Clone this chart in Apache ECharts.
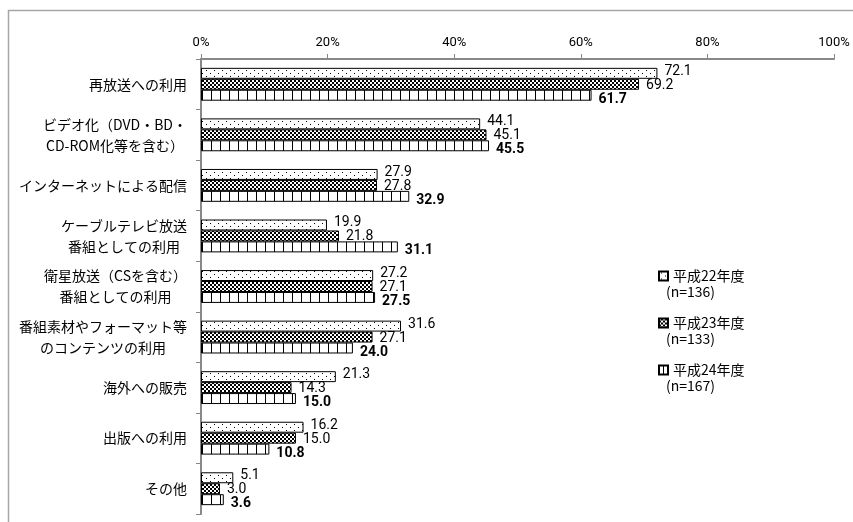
<!DOCTYPE html>
<html><head><meta charset="utf-8">
<script src="https://cdn.jsdelivr.net/npm/echarts@6/dist/echarts.min.js"></script>
<style>html,body{margin:0;padding:0;background:#fff}#c{width:853px;height:522px}</style>
</head><body><div id="c"></div>
<script>
const categories = [
  '再放送への利用',
  'ビデオ化（DVD・BD・\nCD-ROM化等を含む）',
  'インターネットによる配信',
  'ケーブルテレビ放送\n番組としての利用',
  '衛星放送（CSを含む）\n番組としての利用',
  '番組素材やフォーマット等\nのコンテンツの利用',
  '海外への販売',
  '出版への利用',
  'その他'
];
const seriesNames = ['平成22年度', '平成23年度', '平成24年度'];
const sampleSizes = ['(n=136)', '(n=133)', '(n=167)'];
const h22 = [72.1, 44.1, 27.9, 19.9, 27.2, 31.6, 21.3, 16.2, 5.1];
const h23 = [69.2, 45.1, 27.8, 21.8, 27.1, 27.1, 14.3, 15.0, 3.0];
const h24 = [61.7, 45.5, 32.9, 31.1, 27.5, 24.0, 15.0, 10.8, 3.6];
const xTicks = [0, 20, 40, 60, 80, 100];

const JP = '"Noto Sans CJK JP", sans-serif';
const NUM = 'Roboto, "Noto Sans CJK JP", sans-serif';

function makePattern(w, h, draw) {
  const c = document.createElement('canvas');
  c.width = w; c.height = h;
  const g = c.getContext('2d');
  draw(g);
  return { image: c, repeat: 'repeat' };
}
const dotPat = makePattern(8, 6, g => {
  g.fillStyle = '#fff'; g.fillRect(0, 0, 8, 6);
  g.fillStyle = '#000'; g.fillRect(2, 1, 1, 1); g.fillRect(6, 4, 1, 1);
});
const checkPat = makePattern(4, 4, g => {
  g.fillStyle = '#000'; g.fillRect(0, 0, 4, 4);
  g.fillStyle = '#fff'; g.fillRect(0, 0, 2, 2); g.fillRect(2, 2, 2, 2);
});
const stripePat = makePattern(9, 4, g => {
  g.fillStyle = '#fff'; g.fillRect(0, 0, 9, 4);
  g.fillStyle = '#000'; g.fillRect(4, 0, 1, 4);
});

const chart = echarts.init(document.getElementById('c'), null, { renderer: 'canvas' });

function mkSeries(name, data, pat, bold, offY) {
  return {
    name: name, type: 'bar', data: data,
    barGap: '0%', barCategoryGap: '35%',
    itemStyle: { color: pat, borderColor: '#000', borderWidth: 1 },
    label: {
      show: true, position: 'right', distance: 7, offset: [0, offY],
      formatter: p => p.value.toFixed(1),
      fontFamily: NUM, fontSize: 14, color: '#000',
      fontWeight: bold ? 'bold' : 'normal'
    },
    emphasis: { disabled: true }
  };
}

const option = {
  animation: false,
  backgroundColor: '#fff',
  grid: { left: 201, right: 19, top: 59, bottom: 8, containLabel: false },
  xAxis: {
    type: 'value', position: 'top', min: xTicks[0], max: xTicks[xTicks.length - 1], interval: 20,
    axisLine: { show: true, lineStyle: { color: '#888', width: 2 } },
    axisTick: { show: true, length: 5, lineStyle: { color: '#888', width: 1 } },
    splitLine: { show: false },
    axisLabel: { formatter: '{value}%', fontFamily: NUM, fontSize: 13, color: '#000', margin: 10 }
  },
  yAxis: {
    type: 'category', data: categories, inverse: true,
    axisLine: { show: true, lineStyle: { color: '#888', width: 2 } },
    axisTick: { show: true, length: 5, lineStyle: { color: '#888', width: 1 } },
    axisLabel: {
      fontFamily: JP, fontSize: 14, color: '#000', margin: 14, lineHeight: 21,
      formatter: v => v.split('\n').map(s => '{c|' + s + '}').join('\n'),
      rich: { c: { align: 'center', fontFamily: JP, fontSize: 14, lineHeight: 21, color: '#000' } }
    }
  },
  legend: {
    data: seriesNames, orient: 'vertical', left: 653, top: 262,
    icon: 'rect', itemWidth: 9, itemHeight: 9, itemGap: 29,
    textStyle: { fontFamily: JP, fontSize: 14, color: '#000', lineHeight: 18 },
    selectedMode: false
  },
  graphic: [
    { type: 'rect', shape: { x: 8.5, y: 10.5, width: 900, height: 600 },
      style: { fill: 'none', stroke: '#a6a6a6', lineWidth: 1.5 }, silent: true },
    ...sampleSizes.map((t, i) => ({
      type: 'text', x: 666, y: 292 + i * 47,
      style: { text: t, fontFamily: JP, fontSize: 14, fill: '#000', verticalAlign: 'middle' }
    }))
  ],
  series: [
    mkSeries(seriesNames[0], h22, dotPat, false, -2),
    mkSeries(seriesNames[1], h23, checkPat, false, 1),
    mkSeries(seriesNames[2], h24, stripePat, true, 4)
  ]
};
chart.setOption(option);
</script></body></html>
